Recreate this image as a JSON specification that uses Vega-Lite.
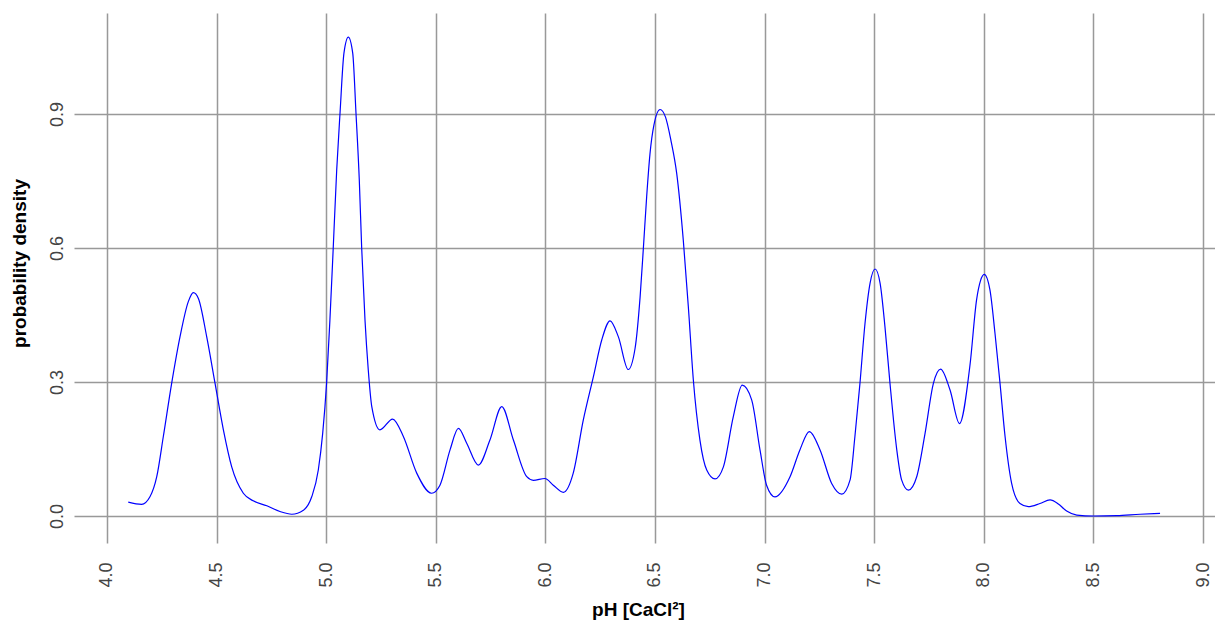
{
  "$schema": "https://vega.github.io/schema/vega-lite/v6.json",
  "width": 1141,
  "height": 530,
  "autosize": {"type": "none"},
  "padding": {"left": 74, "top": 13, "right": 0, "bottom": 80},
  "background": "white",
  "config": {
    "view": {"stroke": null},
    "font": "Liberation Sans"
  },
  "data": {
    "values": [
      {"ph": 4.097, "density": 0.031}, {"ph": 4.158, "density": 0.026}, {"ph": 4.196, "density": 0.043},
      {"ph": 4.227, "density": 0.088}, {"ph": 4.257, "density": 0.178}, {"ph": 4.295, "density": 0.297},
      {"ph": 4.333, "density": 0.401}, {"ph": 4.371, "density": 0.480}, {"ph": 4.394, "density": 0.500},
      {"ph": 4.417, "density": 0.487}, {"ph": 4.455, "density": 0.401}, {"ph": 4.493, "density": 0.297},
      {"ph": 4.531, "density": 0.193}, {"ph": 4.569, "density": 0.110}, {"ph": 4.622, "density": 0.051},
      {"ph": 4.667, "density": 0.034}, {"ph": 4.729, "density": 0.023}, {"ph": 4.789, "density": 0.010},
      {"ph": 4.843, "density": 0.004}, {"ph": 4.896, "density": 0.013}, {"ph": 4.934, "density": 0.043},
      {"ph": 4.964, "density": 0.103}, {"ph": 4.984, "density": 0.185}, {"ph": 5.002, "density": 0.299},
      {"ph": 5.017, "density": 0.439}, {"ph": 5.032, "density": 0.599}, {"ph": 5.048, "density": 0.775},
      {"ph": 5.063, "density": 0.901}, {"ph": 5.081, "density": 1.036}, {"ph": 5.101, "density": 1.072},
      {"ph": 5.121, "density": 1.036}, {"ph": 5.136, "density": 0.901}, {"ph": 5.151, "density": 0.752},
      {"ph": 5.162, "density": 0.599}, {"ph": 5.177, "density": 0.439}, {"ph": 5.192, "density": 0.327},
      {"ph": 5.208, "density": 0.245}, {"ph": 5.245, "density": 0.193}, {"ph": 5.303, "density": 0.217},
      {"ph": 5.352, "density": 0.178}, {"ph": 5.413, "density": 0.096}, {"ph": 5.481, "density": 0.051},
      {"ph": 5.519, "density": 0.069}, {"ph": 5.565, "density": 0.148}, {"ph": 5.603, "density": 0.196},
      {"ph": 5.641, "density": 0.163}, {"ph": 5.694, "density": 0.114}, {"ph": 5.747, "density": 0.170},
      {"ph": 5.801, "density": 0.245}, {"ph": 5.854, "density": 0.170}, {"ph": 5.915, "density": 0.088},
      {"ph": 5.945, "density": 0.080}, {"ph": 5.998, "density": 0.084}, {"ph": 6.036, "density": 0.069},
      {"ph": 6.082, "density": 0.053}, {"ph": 6.127, "density": 0.096}, {"ph": 6.173, "density": 0.215},
      {"ph": 6.219, "density": 0.312}, {"ph": 6.257, "density": 0.394}, {"ph": 6.295, "density": 0.437},
      {"ph": 6.333, "density": 0.401}, {"ph": 6.378, "density": 0.328}, {"ph": 6.409, "density": 0.375},
      {"ph": 6.432, "density": 0.490}, {"ph": 6.447, "density": 0.600}, {"ph": 6.462, "density": 0.715},
      {"ph": 6.477, "density": 0.810}, {"ph": 6.495, "density": 0.875}, {"ph": 6.523, "density": 0.910},
      {"ph": 6.548, "density": 0.893}, {"ph": 6.573, "density": 0.840},
      {"ph": 6.599, "density": 0.767}, {"ph": 6.629, "density": 0.618}, {"ph": 6.652, "density": 0.469},
      {"ph": 6.675, "density": 0.304}, {"ph": 6.705, "density": 0.170}, {"ph": 6.736, "density": 0.103},
      {"ph": 6.774, "density": 0.083}, {"ph": 6.812, "density": 0.110}, {"ph": 6.857, "density": 0.222},
      {"ph": 6.898, "density": 0.293}, {"ph": 6.941, "density": 0.260}, {"ph": 6.979, "density": 0.148},
      {"ph": 7.009, "density": 0.069}, {"ph": 7.047, "density": 0.043}, {"ph": 7.116, "density": 0.088},
      {"ph": 7.161, "density": 0.148}, {"ph": 7.204, "density": 0.189}, {"ph": 7.253, "density": 0.148},
      {"ph": 7.306, "density": 0.073}, {"ph": 7.352, "density": 0.049}, {"ph": 7.390, "density": 0.081},
      {"ph": 7.412, "density": 0.178}, {"ph": 7.435, "density": 0.297}, {"ph": 7.458, "density": 0.431},
      {"ph": 7.481, "density": 0.521}, {"ph": 7.504, "density": 0.553}, {"ph": 7.527, "density": 0.521},
      {"ph": 7.549, "density": 0.424}, {"ph": 7.572, "density": 0.297}, {"ph": 7.603, "density": 0.148},
      {"ph": 7.625, "density": 0.081}, {"ph": 7.656, "density": 0.058}, {"ph": 7.694, "density": 0.088},
      {"ph": 7.732, "density": 0.185}, {"ph": 7.770, "density": 0.297}, {"ph": 7.803, "density": 0.329},
      {"ph": 7.846, "density": 0.282}, {"ph": 7.889, "density": 0.207}, {"ph": 7.937, "density": 0.338},
      {"ph": 7.967, "density": 0.484}, {"ph": 7.985, "density": 0.527}, {"ph": 8.002, "density": 0.541},
      {"ph": 8.028, "density": 0.506},
      {"ph": 8.051, "density": 0.409}, {"ph": 8.074, "density": 0.297}, {"ph": 8.097, "density": 0.178},
      {"ph": 8.127, "density": 0.073}, {"ph": 8.165, "density": 0.028}, {"ph": 8.203, "density": 0.021},
      {"ph": 8.256, "density": 0.028}, {"ph": 8.302, "density": 0.036}, {"ph": 8.340, "density": 0.027},
      {"ph": 8.378, "density": 0.011}, {"ph": 8.424, "density": 0.002}, {"ph": 8.500, "density": 0.000},
      {"ph": 8.606, "density": 0.001}, {"ph": 8.713, "density": 0.004}, {"ph": 8.804, "density": 0.006}
    ]
  },
  "mark": {"type": "line", "color": "#0000ff", "strokeWidth": 1.2, "interpolate": "monotone"},
  "encoding": {
    "x": {
      "field": "ph",
      "type": "quantitative",
      "scale": {"domain": [3.8495, 9.0547], "nice": false, "zero": false},
      "axis": {
        "title": "pH [CaCl²]",
        "values": [4.0, 4.5, 5.0, 5.5, 6.0, 6.5, 7.0, 7.5, 8.0, 8.5, 9.0],
        "format": ".1f",
        "domain": false,
        "ticks": false,
        "grid": true,
        "gridColor": "#999999",
        "gridWidth": 1.5,
        "gridOpacity": 1,
        "labelAngle": -90,
        "labelAlign": "right",
        "labelBaseline": "middle",
        "labelPadding": 19,
        "labelFontSize": 18,
        "labelColor": "#444444",
        "labelFont": "Liberation Sans",
        "titleFont": "Liberation Sans",
        "titleFontSize": 19,
        "titleFontWeight": "bold",
        "titleColor": "#000000",
        "titleX": 564,
        "titleY": 66,
        "titleAlign": "center",
        "titleBaseline": "middle",
        "titleAnchor": null
      }
    },
    "y": {
      "field": "density",
      "type": "quantitative",
      "scale": {"domain": [-0.0604, 1.126], "nice": false, "zero": false},
      "axis": {
        "title": "probability density",
        "values": [0.0, 0.3, 0.6, 0.9],
        "format": ".1f",
        "domain": false,
        "ticks": false,
        "grid": true,
        "gridColor": "#999999",
        "gridWidth": 1.5,
        "gridOpacity": 1,
        "labelAngle": -90,
        "labelAlign": "center",
        "labelBaseline": "alphabetic",
        "labelPadding": 12,
        "labelFontSize": 18,
        "labelColor": "#444444",
        "labelFont": "Liberation Sans",
        "titleFont": "Liberation Sans",
        "titleFontSize": 19,
        "titleFontWeight": "bold",
        "titleColor": "#000000",
        "titleAngle": -90,
        "titleX": -55,
        "titleY": 250,
        "titleAlign": "center",
        "titleBaseline": "middle"
      }
    }
  }
}
